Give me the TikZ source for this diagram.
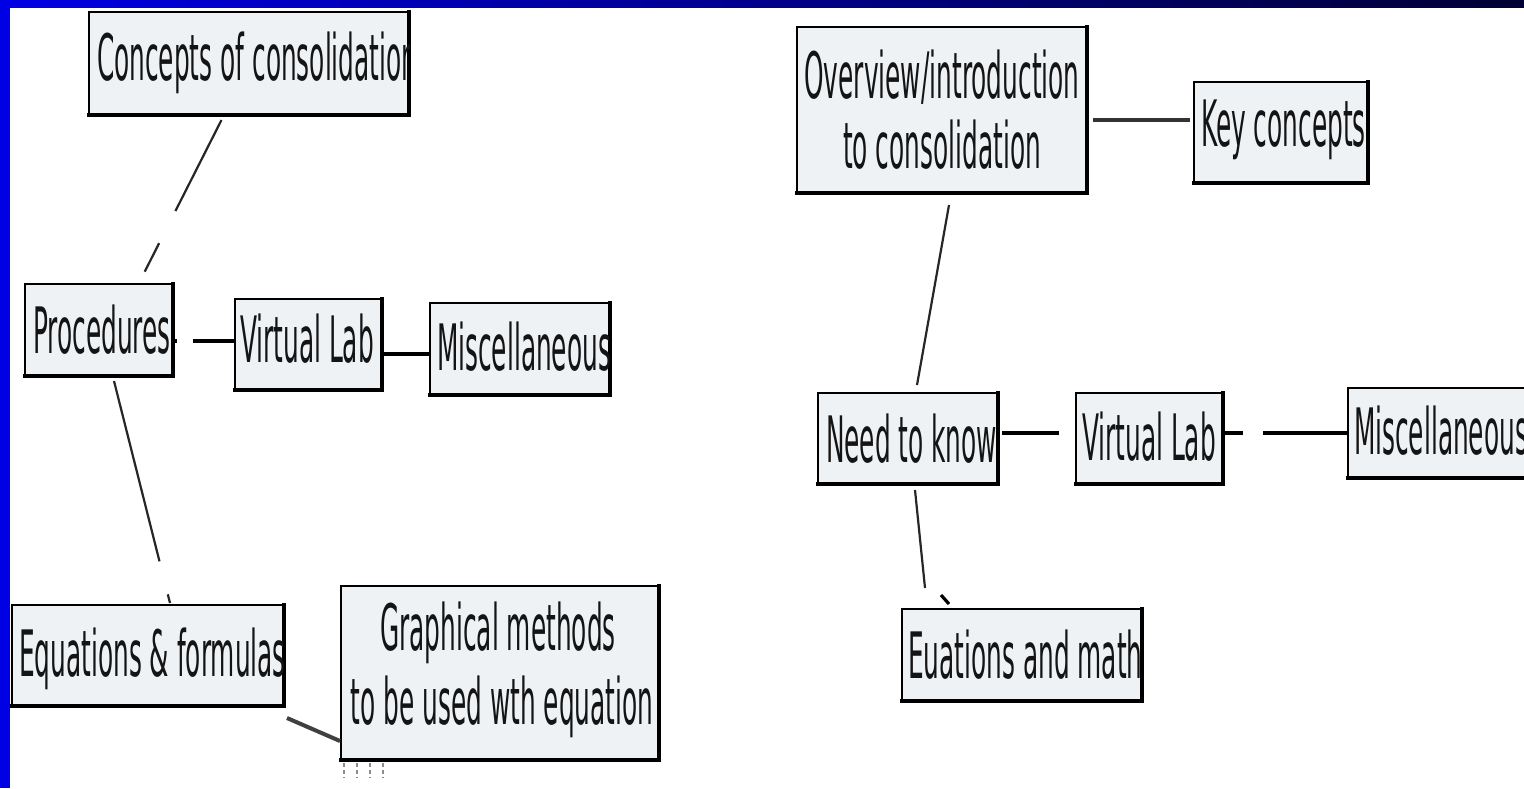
\documentclass[tikz,border=0pt]{standalone}
\usepackage{fontspec}
\newfontfamily\boxfont[FakeStretch=0.388]{DejaVu Sans}
\usetikzlibrary{calc,fit}
\definecolor{boxfill}{HTML}{EEF2F5}
\definecolor{barblue}{RGB}{0,0,228}
\definecolor{barnavy}{RGB}{0,0,52}
\tikzset{
  boxsty/.style={draw=black, fill=boxfill, line width=1.3pt, inner sep=0pt, outer sep=0pt},
  shadowline/.style={line width=2.2pt, line cap=rect},
  txt/.style={font=\boxfont\fontsize{32}{35}\selectfont, inner sep=0pt, outer sep=0pt, text=black!92},
  thinconn/.style={draw=black!85, line width=1.1pt},
  thickconn/.style={draw=black, line width=2pt},
  ticksty/.style={draw=black!45, line width=0.8pt, dash pattern=on 2pt off 1.5pt}
}
% name, x1, y1, x2, y2
\newcommand\mkbox[5]{%
  \path (#2,#3) coordinate (#1-nw) (#4,#5) coordinate (#1-se);
  \node[boxsty, fit=(#1-nw)(#1-se)] (#1) {};
  \draw[shadowline] (#1.north east) -- (#1.south east) -- (#1.south west);
}
% name, x, baseline, text (left aligned, clipped to the box)
\newcommand\boxtext[4]{%
  \begin{scope}
    \clip (#1-nw) rectangle (#1-se);
    \node[txt, anchor=base west] (#1-t) at (#2,#3) {#4};
  \end{scope}
}
\begin{document}
\begin{tikzpicture}[x=0.5pt,y=-0.5pt]
\useasboundingbox (0,0) rectangle (1524,788);
\fill[white] (0,0) rectangle (1524,788);
\shade[left color=barblue, right color=barnavy] (0,0) rectangle (1524,7);
\fill[barblue] (0,0) rectangle (10,788);

% ---------- left map ----------
\mkbox{conc}{89}{12}{409}{115}
\boxtext{conc}{97}{80}{Concepts of consolidation}
\mkbox{proc}{25}{284}{173}{376}
\boxtext{proc}{33}{353}{Procedures}
\mkbox{vlabL}{235}{299}{382}{390}
\boxtext{vlabL}{240}{362}{Virtual Lab}
\mkbox{miscL}{430}{303}{610}{395}
\boxtext{miscL}{437}{370}{Miscellaneous}
\mkbox{eqf}{12}{605}{284}{706}
\boxtext{eqf}{19}{676}{Equations \& formulas}
\mkbox{graph}{341}{586}{659}{760}
\begin{scope}
  \clip (graph-nw) rectangle (graph-se);
  \node[txt, anchor=base] (graph-t1) at (498,650) {Graphical methods};
  \node[txt, anchor=base] (graph-t2) at (502,724) {to be used wth equation};
\end{scope}

% ---------- right map ----------
\mkbox{over}{797}{27}{1087}{193}
\node[txt, anchor=base] (over-t1) at (942,98) {Overview/introduction};
\node[txt, anchor=base] (over-t2) at (942,168) {to consolidation};
\mkbox{key}{1194}{82}{1368}{183}
\boxtext{key}{1201}{146}{Key concepts}
\mkbox{need}{818}{393}{998}{484}
\boxtext{need}{826}{462}{Need to know}
\mkbox{vlabR}{1076}{393}{1223}{484}
\boxtext{vlabR}{1082}{460}{Virtual Lab}
\mkbox{miscR}{1348}{388}{1534}{478}
\boxtext{miscR}{1354}{454}{Miscellaneous}
\mkbox{euat}{902}{609}{1142}{701}
\boxtext{euat}{908}{678}{Euations and math}

% ---------- connectors, left ----------
% Concepts -> Procedures
\draw[thinconn, dash pattern=on 51pt off 18pt on 16pt]
  ($(conc.south)+(-27.5,5)$) -- ($(proc.north)+(42,-5)$);
% Procedures -> Virtual Lab
\draw[thickconn, dash pattern=on 2pt off 8pt on 25pt]
  (proc.east |- 0,341) -- (vlabL.west |- 0,341);
% Virtual Lab -> Miscellaneous
\draw[thickconn] (vlabL.east |- 0,354) -- (miscL.west |- 0,354);
% Procedures -> Equations & formulas
\draw[thinconn, dash pattern=on 93pt off 17pt on 6pt]
  ($(proc.south)+(15,5)$) -- ($(eqf.north)+(22,-2)$);
% Equations & formulas -> Graphical methods
\draw[draw=black!75, line width=2pt]
  ($(eqf.south east)+(3,12)$) -- ($(graph.south west)+(-1,-19)$);
% faint tick marks under Graphical methods
\foreach \tx in {344,357,370,383}
  \draw[ticksty] (\tx,763) -- (\tx,778);

% ---------- connectors, right ----------
% Overview -> Need to know
\draw[thinconn] ($(over.south)+(7,12)$) -- ($(need.north)+(9,-8)$);
% Overview -> Key concepts
\draw[draw=black!80, line width=2pt] ($(over.east |- 0,120)+(6,0)$) -- ($(key.west |- 0,120)+(-4,0)$);
% Need to know -> Virtual Lab
\draw[thickconn, dash pattern=on 28.5pt off 8.5pt on 20pt]
  ($(need.east |- 0,433)+(4,0)$) -- (vlabR.west |- 0,433);
% Virtual Lab -> Miscellaneous
\draw[thickconn, dash pattern=on 9pt off 10pt on 60pt]
  ($(vlabR.east |- 0,433)+(2,0)$) -- (miscR.west |- 0,433);
% Need to know -> Euations and math
\draw[thinconn] ($(need.south)+(7,6)$) -- ($(euat.north)+(-97,-21)$);
\draw[draw=black, line width=1.6pt] ($(euat.north)+(-81,-14)$) -- ($(euat.north)+(-73,-5)$);
\end{tikzpicture}
\end{document}
